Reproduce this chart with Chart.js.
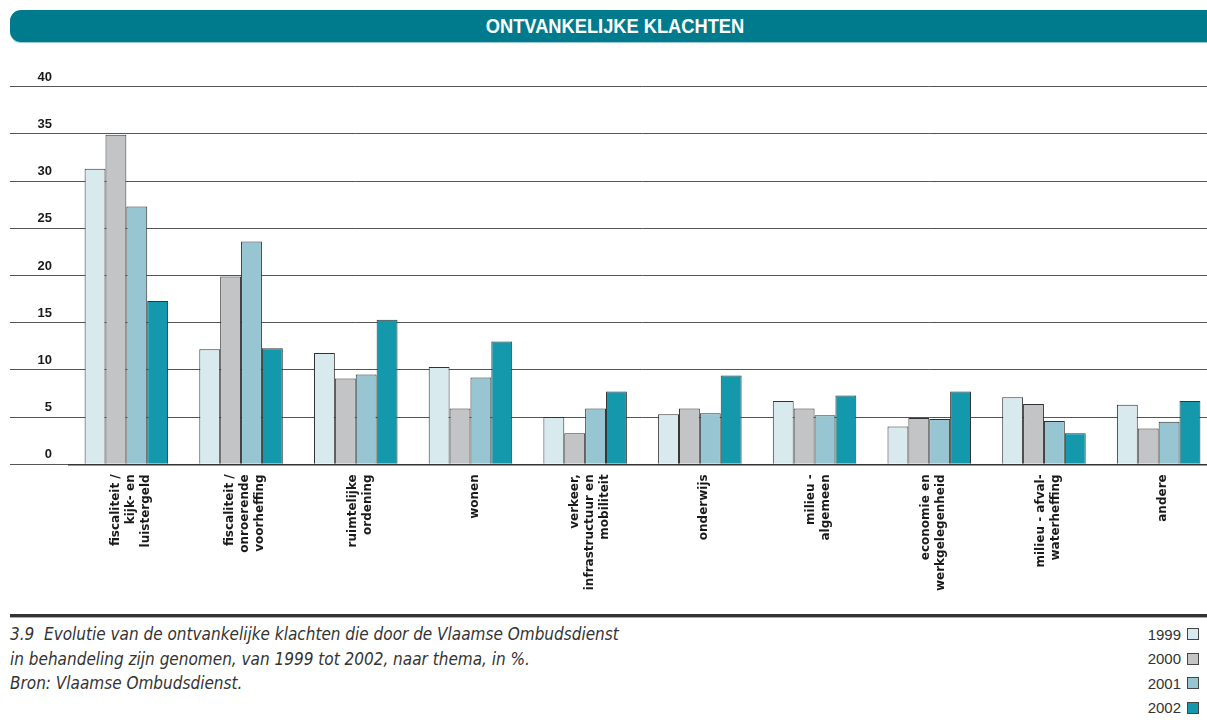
<!DOCTYPE html>
<html>
<head>
<meta charset="utf-8">
<title>Ontvankelijke klachten</title>
<script src="https://cdn.jsdelivr.net/npm/chart.js@4.4.1/dist/chart.umd.min.js"></script>
<style>
  html, body { margin: 0; padding: 0; width: 1207px; height: 722px; overflow: hidden; background: #fff; }
  #titlebar {
    position: absolute; left: 10px; top: 10px; width: 1230px; height: 32px;
    background: #007b8e; border-radius: 11px 0 0 11px;
    box-shadow: 0 1px 0 #9ccad4;
  }
  #titlebar span {
    position: absolute; left: 0; top: 0; width: 1210px; line-height: 32px; text-align: center;
    color: #fff; font-family: "Liberation Sans", Arial, sans-serif;
    font-weight: bold; font-size: 21px; transform: scaleX(0.87);
  }
  #chart { position: absolute; left: 0; top: 50px; }
  #rule { position: absolute; left: 10px; top: 614px; width: 1230px; height: 3px; background: #333; border-bottom: 1px solid #aaa; }
  #caption {
    position: absolute; left: 10px; top: 622px; color: #333;
    font-family: "Liberation Sans Narrow", "DejaVu Sans Condensed", Arial, sans-serif;
    font-style: italic; font-size: 17px; line-height: 24.5px;
  }
  #legend { position: absolute; right: 8px; top: 622px; }
  #legend div { height: 24.5px; display: flex; align-items: center; justify-content: flex-end;
    font-family: "Liberation Sans", Arial, sans-serif; font-size: 15px; color: #333; }
  #legend i { display: inline-block; width: 10px; height: 10px; margin-left: 6px; border: 1px solid #444; }
</style>
</head>
<body>
<div id="titlebar"><span>ONTVANKELIJKE KLACHTEN</span></div>
<canvas id="chart" width="1230" height="560"></canvas>
<div id="rule"></div>
<div id="caption">
  3.9&nbsp; Evolutie van de ontvankelijke klachten die door de Vlaamse Ombudsdienst<br>
  in behandeling zijn genomen, van 1999 tot 2002, naar thema, in %.<br>
  Bron: Vlaamse Ombudsdienst.
</div>
<div id="legend"></div>
<script>
// Themes (one label line per array entry)
const themes = [
  ["fiscaliteit /", "kijk- en", "luistergeld"],
  ["fiscaliteit /", "onroerende", "voorheffing"],
  ["ruimtelijke", "ordening"],
  ["wonen"],
  ["verkeer,", "infrastructuur en", "mobiliteit"],
  ["onderwijs"],
  ["milieu -", "algemeen"],
  ["economie en", "werkgelegenheid"],
  ["milieu - afval-", "waterheffing"],
  ["andere"]
];

const years = ["1999", "2000", "2001", "2002"];

// Share of admissible complaints per theme, in %
const values1999 = [31.3, 12.2, 11.8, 10.3, 5.0, 5.3, 6.7, 4.0, 7.1, 6.3];
const values2000 = [34.9, 19.9, 9.1, 5.9, 3.3, 5.9, 5.9, 4.9, 6.4, 3.8];
const values2001 = [27.3, 23.6, 9.5, 9.2, 5.9, 5.4, 5.2, 4.8, 4.6, 4.5];
const values2002 = [17.3, 12.3, 15.3, 13.0, 7.7, 9.4, 7.3, 7.7, 3.3, 6.7];

const yearColors = ["#d9eaef", "#c3c4c6", "#97c6d2", "#1498ab"];
const yTickStep = 5;
const yMax = 40;

const series = [values1999, values2000, values2001, values2002];

// Rotated labels stack their lines to the right of the tick; a blank first
// line (single-line themes) or the half-line backdrop shift (two-line themes)
// keeps every label block centred under its group.
const axisLabels = themes.map(t => (t.length === 1 ? [""].concat(t) : t));
const LINE_H = 15;

const chart = new Chart(document.getElementById('chart'), {
  type: 'bar',
  data: {
    labels: axisLabels,
    datasets: years.map((y, i) => ({
      label: y,
      data: series[i],
      backgroundColor: yearColors[i],
      borderColor: '#333',
      borderWidth: 1,
      categoryPercentage: 0.728,
      barPercentage: 1.0
    }))
  },
  options: {
    responsive: false,
    animation: false,
    devicePixelRatio: 1,
    layout: { padding: { left: 10, right: 14, top: 36.7, bottom: 0 } },
    plugins: { legend: { display: false }, tooltip: { enabled: false } },
    scales: {
      x: {
        grid: { display: false, drawTicks: false },
        border: { display: true, color: '#333', width: 1.5 },
        ticks: {
          autoSkip: false, minRotation: 90, maxRotation: 90, padding: 10,
          labelOffset: -10.7,
          showLabelBackdrop: ctx => themes[ctx.index] && themes[ctx.index].length === 2,
          backdropColor: 'rgba(0,0,0,0)',
          backdropPadding: 0,
          color: '#1a1a1a',
          font: { family: '"DejaVu Sans", sans-serif', size: 12, weight: 'bold', lineHeight: LINE_H / 12 }
        },
        afterFit(scale) { scale.height = 145.7; }
      },
      y: {
        min: 0, max: yMax,
        border: { display: false },
        grid: { color: '#555', tickColor: '#555', lineWidth: 1, drawTicks: true, tickLength: 59 },
        ticks: {
          stepSize: yTickStep, padding: -42, labelOffset: -9.5, color: '#1a1a1a',
          font: { family: '"Liberation Sans", Arial, sans-serif', size: 13, weight: 'bold' }
        },
        afterFit(scale) { scale.width = 59; }
      }
    }
  }
});

// Legend: year label followed by its swatch
const legend = document.getElementById('legend');
chart.data.datasets.forEach(ds => {
  const row = document.createElement('div');
  const txt = document.createElement('span');
  txt.textContent = ds.label;
  const box = document.createElement('i');
  box.style.background = ds.backgroundColor;
  row.appendChild(txt);
  row.appendChild(box);
  legend.appendChild(row);
});
</script>
</body>
</html>
